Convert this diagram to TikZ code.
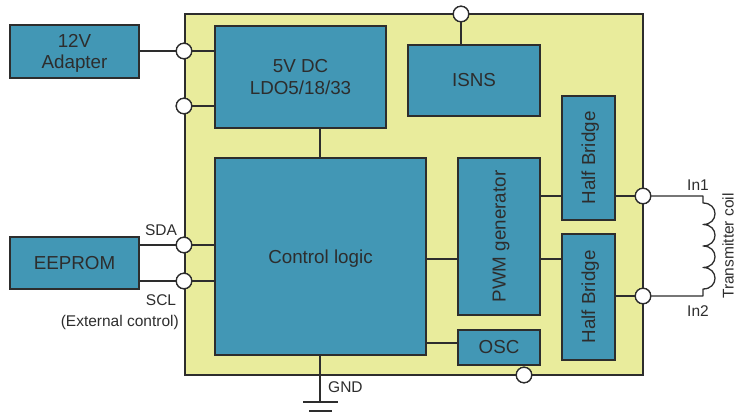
\documentclass[tikz,border=0pt]{standalone}
\usepackage{fontspec}
\setmainfont{Liberation Sans}
\usetikzlibrary{calc}
\definecolor{blk}{HTML}{4297B5}
\definecolor{chipc}{HTML}{E9EC9C}
\definecolor{ink}{HTML}{2D2D2D}
\tikzset{
  x=1pt,y=-1pt,
  wire/.style={draw=ink,line width=1.3pt},
  blockbox/.style={draw=ink,fill=blk,line width=1.5pt,text=ink,font=\fontsize{18.8}{21.5}\selectfont,align=center,inner sep=0pt},
  pin/.style={circle,draw=ink,fill=white,line width=1.3pt,minimum size=15.5pt,inner sep=0pt},
  lbl/.style={text=ink,font=\fontsize{15.5}{18}\selectfont,inner sep=0pt},
}
\newcommand{\blockat}[6]{% name, x1,y1,x2,y2, text
  \node[blockbox,minimum width={(#4-#2)*1pt},minimum height={(#5-#3)*1pt}] (#1) at ({(#2+#4)/2},{(#3+#5)/2}) {#6};}
\newcommand{\nodepth}[1]{\raisebox{0pt}[\height][0pt]{#1}}
\newcommand{\sidetext}[1]{\rotatebox{90}{\raisebox{-6.7pt}[0pt][0pt]{#1}}}
\begin{document}
\begin{tikzpicture}
\useasboundingbox (0,0) rectangle (736,416);
\node[draw=ink,fill=chipc,line width=1.5pt,minimum width=458pt,minimum height=361pt,inner sep=0pt] (chip) at (414,194.5) {};
\blockat{adapter}{10}{25}{139}{78}{12V\\\nodepth{Adapter}}
\blockat{eeprom}{10}{237}{139}{289}{EEPROM}
\blockat{ldo}{215}{26}{386}{128}{5V DC\\LDO5/18/33}
\blockat{isns}{408}{45}{540}{116}{ISNS}
\blockat{ctrl}{215}{158}{426}{355}{\nodepth{Control logic}}
\blockat{pwm}{458}{158}{540}{315}{\sidetext{PWM generator}}
\blockat{osc}{458}{330}{540}{365}{OSC}
\blockat{hba}{562}{96}{615}{220}{\sidetext{Half Bridge}}
\blockat{hbb}{562}{234}{615}{360}{\sidetext{Half Bridge}}
\node[pin] (p1) at (184,51) {};
\node[pin] (p2) at (184,106) {};
\node[pin] (p3) at (184,245) {};
\node[pin] (p4) at (184,281) {};
\node[pin] (p5) at (461,14) {};
\node[pin] (p6) at (524,375) {};
\node[pin] (p7) at (643,196) {};
\node[pin] (p8) at (643,296) {};
\coordinate (gnd) at (320,402);
\coordinate (coila) at (703,196);
\coordinate (coilb) at (703,296);
\draw[wire] (adapter.east |- p1) -- (p1) -- (ldo.west |- p1);
\draw[wire] (p2) -- (ldo.west |- p2);
\draw[wire] (eeprom.east |- p3) -- (p3) -- (ctrl.west |- p3);
\draw[wire] (eeprom.east |- p4) -- (p4) -- (ctrl.west |- p4);
\draw[wire] (p5) -- (p5 |- isns.north);
\draw[wire] (ldo.south -| gnd) -- (ctrl.north -| gnd);
\draw[wire] (ctrl.south -| gnd) -- (gnd);
\draw[wire] (ctrl.east |- 0,259) -- (pwm.west |- 0,259);
\draw[wire] (ctrl.east |- 0,343) -- (osc.west |- 0,343);
\draw[wire] (pwm.east |- p7) -- (hba.west |- p7);
\draw[wire] (pwm.east |- 0,259) -- (hbb.west |- 0,259);
\draw[wire] (hba.east |- p7) -- (p7);
\draw[wire] (hbb.east |- p8) -- (p8);
\draw[wire,line join=round] (p7) -- (coila) -- ++(0,7)
  .. controls +(16,0) and +(16,0) .. ++(0,21.5)
  .. controls +(16,0) and +(16,0) .. ++(0,21.5)
  .. controls +(16,0) and +(16,0) .. ++(0,21.5)
  .. controls +(16,0) and +(16,0) .. ++(0,21.5)
  -- (coilb) -- (p8);
\foreach \n in {p1,p2,p3,p4,p5,p6,p7,p8} \node[pin] at (\n) {};
\draw[wire] (303,402) -- (338,402);
\draw[wire] (309,411) -- (332,411);
\node[lbl,anchor=base] at (161,235) {SDA};
\node[lbl,anchor=base] at (161,305) {SCL};
\node[lbl,anchor=base east] at (179,326) {(External control)};
\node[lbl,anchor=base west] at (328,392) {GND};
\node[lbl,anchor=base] at (698,190) {In1};
\node[lbl,anchor=base] at (698,316) {In2};
\node[lbl,rotate=90,anchor=center] at (728,246) {Transmitter coil};
\end{tikzpicture}
\end{document}
